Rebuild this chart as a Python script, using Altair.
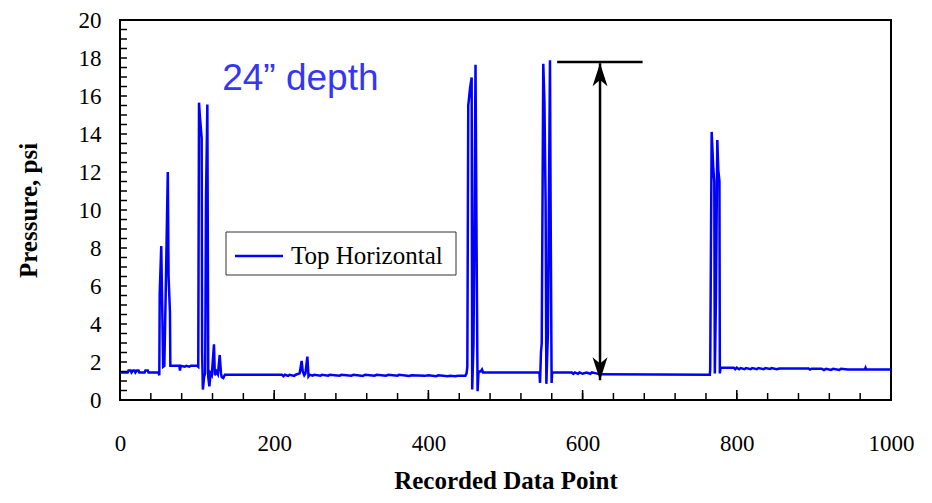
import altair as alt
import pandas as pd

# ---------------- data ----------------
series_name = "Top Horizontal"

point_x = [
    0, 10, 11, 14, 15, 17, 19, 20, 22, 24, 25, 32, 33, 36, 37, 50,
    51, 51.5, 53.5, 56, 57.5, 59, 60.5, 62, 63, 64.8, 65.3,
    72, 77, 77.8, 78.5, 84, 86, 90, 92, 100, 101.5,
    102.5, 103.5, 105.9, 106.5, 107.5, 109, 110.5, 111.5, 113.3, 114.5, 115.9,
    117.5, 119, 121.9, 123, 125, 127, 129.3, 131, 132, 134, 136,
    210, 212, 214, 218, 220, 226, 228, 233, 235.6, 237, 239, 240.5, 243, 244.5,
    246, 250, 252, 260, 262, 270, 272, 285, 287, 300, 303, 315, 318, 330, 333,
    345, 348, 360, 362, 375, 378, 395, 400, 410, 413, 425, 428, 435, 438, 448,
    449.5, 450.5, 451.7, 454, 456.1, 456.8, 458.5, 459.5, 461.1, 462.4, 463.8,
    465, 468, 469.5, 471,
    544, 544.8, 546, 547, 549, 550.5, 552, 553, 555, 557.7, 558.5, 559.8, 560.5,
    586, 588, 590, 594, 596, 600, 605, 610, 612, 618, 622, 765,
    765.5, 767.4, 769.5, 770.8, 771.5, 773, 774.7, 776, 777.5, 778, 779,
    796, 798, 800, 803, 805, 810, 812, 818, 820, 826, 828, 835, 837, 843, 845,
    852, 855, 880, 893, 895, 897, 910, 913, 916, 922, 925, 933, 935, 944, 966,
    967, 968, 1000,
]
pressure = [
    1.45, 1.45, 1.55, 1.55, 1.45, 1.55, 1.55, 1.45, 1.55, 1.55, 1.45, 1.45, 1.55, 1.55, 1.45, 1.45,
    1.3, 5.6, 8.1, 1.75, 1.8, 5.0, 8.5, 12.0, 6.5, 4.6, 1.8,
    1.8, 1.8, 1.55, 1.8, 1.75, 1.8, 1.75, 1.8, 1.8, 1.75,
    15.65, 15.0, 13.8, 2.5, 0.55, 1.2, 1.4, 10.5, 15.55, 1.2, 0.72,
    1.4, 1.3, 2.93, 1.3, 1.5, 1.35, 2.37, 1.4, 1.2, 1.16, 1.33,
    1.33, 1.25, 1.33, 1.27, 1.33, 1.27, 1.33, 1.4, 2.06, 1.5, 1.3, 1.4, 2.28, 1.25,
    1.33, 1.28, 1.33, 1.28, 1.33, 1.28, 1.33, 1.28, 1.33, 1.28, 1.33, 1.27, 1.33, 1.28, 1.33,
    1.28, 1.33, 1.28, 1.33, 1.27, 1.3, 1.27, 1.3, 1.25, 1.3, 1.25, 1.28, 1.25, 1.28, 1.28,
    1.4, 1.76, 15.5, 16.4, 16.98, 0.55, 3.0, 8.0, 17.64, 8.72, 0.46,
    1.5, 1.5, 1.6, 1.45,
    1.45, 0.9, 2.5, 3.0, 17.7, 15.7, 10.5, 0.85, 3.5, 17.88, 10.3, 0.9, 1.45,
    1.45, 1.38, 1.45, 1.38, 1.45, 1.38, 1.45, 1.38, 1.45, 1.4, 1.35, 1.33,
    1.6, 14.11, 12.2, 11.5, 1.4, 5.5, 13.68, 12.1, 11.5, 1.4, 1.7,
    1.7, 1.62, 1.7, 1.62, 1.68, 1.62, 1.68, 1.62, 1.68, 1.62, 1.68, 1.62, 1.68, 1.63, 1.68,
    1.62, 1.66, 1.66, 1.66, 1.6, 1.65, 1.65, 1.58, 1.64, 1.58, 1.64, 1.58, 1.64, 1.6, 1.6,
    1.7, 1.6, 1.6,
]

x_label_values = [0, 200, 400, 600, 800, 1000]
y_label_values = [0, 2, 4, 6, 8, 10, 12, 14, 16, 18, 20]
x_minor_ticks = [0, 40, 80, 120, 160, 200, 240, 280, 320, 360, 400, 440, 480, 520,
                 560, 600, 640, 680, 720, 760, 800, 840, 880, 920, 960, 1000]
x_major_ticks = [0, 200, 400, 600, 800, 1000]
y_ticks = [0.5, 1, 1.5, 2, 2.5, 3, 3.5, 4, 4.5, 5, 5.5, 6, 6.5, 7, 7.5, 8, 8.5, 9, 9.5, 10,
           10.5, 11, 11.5, 12, 12.5, 13, 13.5, 14, 14.5, 15, 15.5, 16, 16.5, 17, 17.5, 18,
           18.5, 19, 19.5]

note_text = ["24\u201d depth"]
note_x = [132.5]
note_y = [16.29]

arrow_x = [622.6]
arrow_top = [17.72]
arrow_bottom = [1.04]
cap_x_start = [567]
cap_x_end = [677.8]
cap_y = [17.79]

# ---------------- chart ----------------
W, H = 771, 380
SERIF = "Liberation Serif"

xs = alt.Scale(domain=[0, 1000], nice=False, zero=False)
ys = alt.Scale(domain=[0, 20], nice=False, zero=False)
cs = alt.Scale(domain=[series_name], range=["#0000ff"])

x_axis = alt.Axis(
    values=x_label_values, format="d", grid=False, ticks=False, tickSize=0, domain=False,
    labelFont=SERIF, labelFontSize=23, labelColor="black", labelPadding=32,
    labelFlush=False, labelOverlap=False,
    title="Recorded Data Point", titleFont=SERIF, titleFontSize=25, titleFontWeight="bold",
    titleColor="black", titleX=W / 2, titleY=88, titleAlign="center",
    titleBaseline="alphabetic")
y_axis = alt.Axis(
    values=y_label_values, format="d", grid=False, ticks=False, tickSize=0, domain=False,
    labelFont=SERIF, labelFontSize=23, labelColor="black", labelPadding=19,
    labelFlush=False, labelOverlap=False,
    title="Pressure, psi", titleFont=SERIF, titleFontSize=25, titleFontWeight="bold",
    titleColor="black", titleX=-92, titleY=H / 2, titleAngle=270, titleAlign="center",
    titleBaseline="middle")


def X(field):
    return alt.X(field, scale=xs, axis=x_axis)


def Y(field):
    return alt.Y(field, scale=ys, axis=y_axis)


df = pd.DataFrame({"x": point_x, "p": pressure, "series": [series_name] * len(point_x)})

line = alt.Chart(df).mark_line(strokeWidth=2.5, clip=True).encode(
    x=X("x:Q"), y=Y("p:Q"),
    color=alt.Color("series:N", scale=cs, legend=None),
)

xminor = alt.Chart(pd.DataFrame({"t": x_minor_ticks})).mark_rule(
    color="black", strokeWidth=1.5).encode(x=X("t:Q"), y=alt.value(H), y2=alt.value(H - 7))
xmajor = alt.Chart(pd.DataFrame({"t": x_major_ticks})).mark_rule(
    color="black", strokeWidth=1.5).encode(x=X("t:Q"), y=alt.value(H), y2=alt.value(H - 10))
yminor = alt.Chart(pd.DataFrame({"t": y_ticks})).mark_rule(
    color="black", strokeWidth=1.5).encode(y=Y("t:Q"), x=alt.value(0), x2=alt.value(7))

note = alt.Chart(pd.DataFrame({"x": note_x, "y": note_y, "t": note_text})).mark_text(
    font="Liberation Sans", fontSize=37, color="#3535f5", align="left",
    baseline="alphabetic").encode(x=X("x:Q"), y=Y("y:Q"), text="t:N")

ann = pd.DataFrame({"ax": arrow_x, "at": arrow_top, "ab": arrow_bottom,
                    "c0": cap_x_start, "c1": cap_x_end, "cy": cap_y})
vline = alt.Chart(ann).mark_rule(color="black", strokeWidth=2.5).encode(
    x=X("ax:Q"), y=Y("at:Q"), y2="ab:Q")
cap = alt.Chart(ann).mark_rule(color="black", strokeWidth=2.5).encode(
    x=X("c0:Q"), x2="c1:Q", y=Y("cy:Q"))
head_up = alt.Chart(ann).mark_point(
    shape="M0,0 L0.65,2 L0,1.45 L-0.65,2 Z", size=529, filled=True, color="black",
    opacity=1, strokeWidth=0).encode(x=X("ax:Q"), y=Y("at:Q"))
head_down = alt.Chart(ann).mark_point(
    shape="M0,0 L0.65,-2 L0,-1.45 L-0.65,-2 Z", size=529, filled=True, color="black",
    opacity=1, strokeWidth=0).encode(x=X("ax:Q"), y=Y("ab:Q"))

# legend box (drawn as marks, placed where the reference puts it)
leg = pd.DataFrame({"series": [series_name]})
leg_box = alt.Chart(leg).mark_rect(fill="white", stroke="#333333", strokeWidth=1).encode(
    x=alt.value(106), x2=alt.value(336), y=alt.value(212), y2=alt.value(255))
leg_line = alt.Chart(leg).mark_rule(strokeWidth=2.5).encode(
    x=alt.value(115), x2=alt.value(163), y=alt.value(236),
    color=alt.Color("series:N", scale=cs, legend=None))
leg_text = alt.Chart(leg).mark_text(
    font=SERIF, fontSize=25, color="black", align="left", baseline="middle").encode(
    x=alt.value(171), y=alt.value(236), text="series:N")

chart = alt.layer(
    line, xminor, xmajor, yminor, note, vline, cap, head_up, head_down,
    leg_box, leg_line, leg_text
).properties(
    width=W, height=H,
    autosize=alt.AutoSizeParams(type="none"),
    padding={"left": 112, "top": 12, "right": 30, "bottom": 95},
).configure_view(
    stroke="black", strokeWidth=2
)

chart.save("out.html", embed_options={"renderer": "svg", "actions": False})
